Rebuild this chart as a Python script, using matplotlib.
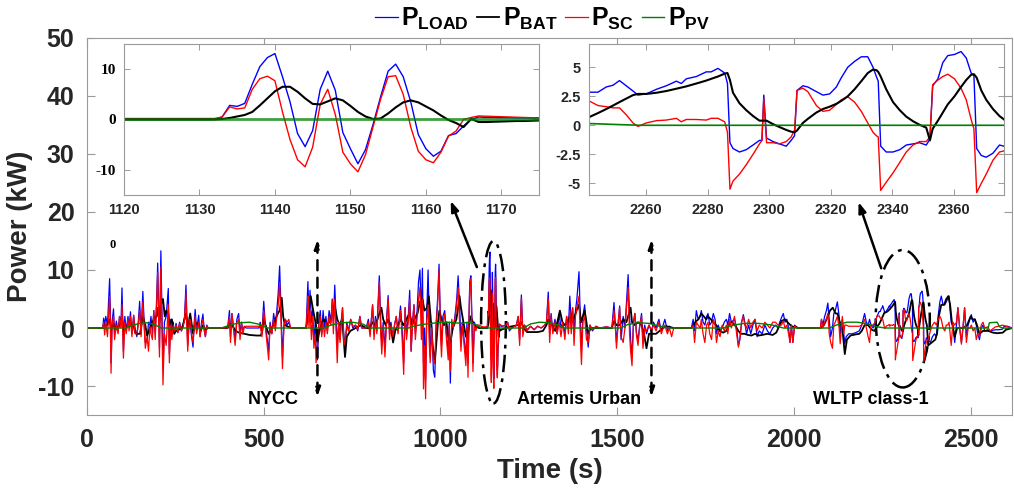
import numpy as np
import matplotlib.pyplot as plt
from matplotlib.patches import Ellipse

plt.rcParams['font.family'] = 'Liberation Sans'
plt.rcParams['font.weight'] = 'bold'
plt.rcParams['axes.labelweight'] = 'bold'
plt.rcParams['axes.unicode_minus'] = False
plt.rcParams['mathtext.fontset'] = 'custom'
plt.rcParams['mathtext.rm'] = 'Liberation Sans'
plt.rcParams['mathtext.bf'] = 'Liberation Sans:bold'

# ---- main trace: (time s, P_LOAD kW, P_SC kW) ----
drive_a = [(0, 0, 0), (45, 0, 0), (47, 1.7, 1.0), (50, 0.5, -1.2), (53, 2.0, 1.0), (58, 0.5, -1.5),
           (64, 8.5, 5.5), (66, 3.0, 1.0), (68, -6.0, -7.8), (71, 1.0, 0.5), (75, 3.3, 2.0), (78, -1.0, -2.0),
           (83, 1.2, 0.5), (88, -0.5, -1.0), (92, 2.0, 2.0), (96, 0.3, 0.0), (99, 6.9, 4.0), (103, -4.0, -5.2),
           (107, 2.0, 1.0), (111, -0.5, -1.0), (116, 2.0, 1.5), (119, 0.2, -0.5), (123, 2.8, 2.0), (127, -1.0, -1.5),
           (132, 2.2, 2.2), (136, 0.0, -1.0), (141, -1.5, -1.0), (145, 1.0, 0.5), (149, 4.6, 3.0), (153, -1.0, -1.5),
           (158, 6.3, 4.5), (162, 0.5, 0.0), (165, -2.5, -3.5), (170, -2.3, -1.5), (174, 1.0, -4.0), (178, 0.5, 0.3),
           (181, 2.0, -1.0), (185, -1.0, -2.0), (189, 3.0, 3.0), (193, -1.0, -2.0), (197, 5.0, 4.0), (200, 11.2, 9.6),
           (203, 2.0, 0.5), (205, -3.5, -5.0), (209, 13.3, 10.5), (212, 3.0, 0.0), (215, -7.0, -9.8), (219, 1.0, -1.0),
           (224, 2.0, -3.0), (230, 6.8, 4.0), (233, -4.5, -6.0), (237, 1.5, 0.5), (240, -1.0, -2.0), (244, 1.0, 0.5),
           (247, -1.0, -0.5), (252, 0.8, 0.5), (257, -0.8, -0.8), (262, 1.0, 0.8), (267, -0.5, -0.5), (272, 0.3, 0.2),
           (276, 2.0, 1.5), (280, 7.4, 6.0), (283, 1.0, -1.0), (285, -3.0, -4.0), (289, 1.0, 1.5), (292, 0.5, 1.5),
           (296, -1.5, -1.0), (300, -3.3, -2.5), (303, 0.5, 0.0), (306, 3.2, 2.0), (310, -0.5, -1.0), (316, 2.2, 1.0),
           (320, -1.5, -1.5), (324, 1.0, 0.5), (328, 2.4, 1.5), (332, -0.5, -0.5), (335, -1.5, -1.5), (339, 0.5, 0.3),
           (343, 0, 0), (398, 0, 0), (403, 3.0, 2.0), (406, -1.5, -2.5), (410, 2.5, 2.5), (414, 0.5, 0.0),
           (419, -2.0, -3.0), (424, 1.5, 1.0), (429, 2.5, 1.5), (433, -1.0, -2.0), (437, 1.0, 1.0), (441, -0.5, -1.0),
           (445, 0.3, 0.2), (450, 0.0, 0.3), (470, 0.0, 0.3), (487, 0.0, 0.3), (490, 1.0, 0.5), (495, -1.0, -1.5),
           (500, 4.6, 3.0), (504, 1.0, 0.5), (509, -1.5, -2.5), (514, -4.0, -5.5), (518, 1.0, 0.5), (523, -1.0, -1.0),
           (528, 2.5, 1.5), (533, 0.5, -0.5), (537, 3.0, 2.0), (541, 6.0, 4.0), (545, 10.7, 7.7), (549, 3.0, 1.0),
           (553, -5.0, -7.0), (557, 0.5, 0.0), (561, 1.5, 1.5), (566, 0.5, 1.0), (571, 1.0, 1.5), (576, 0, 0),
           (620, 0, 0), (623, 5.0, 3.0), (625, 8.0, 5.5), (628, 2.0, 0.0), (631, 6.5, 3.0), (635, 1.0, -2.0),
           (638, 3.0, 2.0), (642, -2.0, -3.5), (646, 1.0, -1.0), (648, -3.0, -6.0), (652, -5.5, -3.0), (656, 1.0, 0.5),
           (660, 3.0, 2.0), (664, -1.0, -1.5), (668, 3.0, 1.0), (672, 0.0, -1.5), (676, 2.0, 1.0), (680, -0.5, -1.0),
           (685, 3.0, 2.0), (690, 1.0, 0.5), (694, 5.0, 4.8), (697, 1.0, -1.0), (701, 7.4, 5.0), (705, 1.0, -1.0),
           (708, -3.0, -6.0), (712, 1.0, 1.0), (716, -2.0, -2.5), (719, 1.0, 0.5), (723, 3.5, 3.5), (727, -2.0, -3.0),
           (731, -3.0, -2.0), (735, 1.0, 0.5), (740, -0.5, -0.5), (746, 1.5, 1.5), (752, 0.0, 0.3), (760, 0.5, 0.5),
           (766, -0.5, -0.3), (772, 2.0, 2.0), (777, 0, 0), (790, 0, 0), (796, 1.5, 1.0), (801, -1.0, -1.5),
           (808, 4.0, 4.0), (812, -1.0, -2.0), (816, 2.0, 1.5), (820, -0.5, -1.0), (824, 5.0, 4.0), (827, 9.0, 8.0),
           (831, 1.0, -1.0), (834, -3.0, -4.5), (838, 1.0, 0.5), (843, -3.5, -5.0), (847, 1.0, 0.5), (852, 5.6, 5.0),
           (856, -1.0, -2.0), (860, 1.0, 0.5), (866, -2.0, -1.5), (870, 0.5, 0.5), (875, 2.0, 2.0), (880, -0.5, -1.0),
           (887, 3.8, 3.0), (891, 0.5, -1.0), (896, -6.0, -8.0), (900, 3.5, 3.5), (904, -1.0, -2.0), (909, 2.0, 1.0),
           (913, 6.5, 5.0), (917, -4.0, -4.0), (921, 1.0, 0.5), (925, 4.0, 4.0), (929, -1.0, -2.0), (934, 3.0, 2.0),
           (938, 8.0, 5.0), (942, 10.0, 7.0), (946, 2.0, -2.0), (949, 10.3, 5.0), (952, -6.0, -10.5), (955, 0.0, -3.0),
           (958, -9.0, -12.2), (961, 2.0, 1.0), (965, 10.0, 4.0), (968, 2.0, -2.0), (971, -5.0, -6.0), (975, 1.0, 0.0),
           (980, -7.3, -5.5), (984, -8.5, -6.0), (988, 1.0, 0.5), (992, 5.0, 4.0), (996, 11.0, 10.0), (1000, 1.0, -1.0),
           (1003, -3.0, -5.0), (1007, 2.0, 1.0), (1012, 3.0, 2.5), (1017, -1.0, -2.0), (1022, -4.0, -5.5), (1025, 1.0, 0.5),
           (1028, -9.5, -7.5), (1032, 1.0, 1.5), (1036, 0.0, 0.0), (1041, 2.0, 1.5), (1046, 5.0, 4.0), (1050, 9.0, 7.0),
           (1054, 4.0, 1.0), (1058, -2.0, -4.0), (1062, 1.0, 0.5), (1067, -2.0, -3.0), (1072, -5.0, -6.5), (1075, 1.0, 0.0),
           (1078, -6.0, -8.5), (1081, 3.0, 2.0), (1083, 8.0, 7.0), (1086, 9.0, 8.5), (1089, 2.0, 0.0), (1092, -6.0, -7.5),
           (1096, 1.0, 0.5), (1100, 0.0, -0.5), (1105, 0.5, 0.5), (1110, 0.0, 0.5), (1115, 0.0, 0.3)]

drive_b = [(1176, 0.3, 0.35), (1185, 0.5, 0.5), (1190, 1.0, 1.0), (1195, -0.5, -0.3), (1202, 0.0, 0.0), (1215, 0.5, 0.5),
           (1220, 2.0, 2.0), (1224, -2.0, -3.0), (1229, 5.7, 5.2), (1233, -0.5, -1.5), (1238, 0.5, 0.5), (1245, -0.3, -0.5),
           (1255, 0.3, 0.3), (1265, -0.3, -0.3), (1275, 0.3, 0.3), (1285, 0.0, 0.0), (1295, 0.5, 0.5), (1300, 1.0, 1.0),
           (1305, 6.2, 5.0), (1309, -1.0, -2.5), (1313, 2.5, 2.0), (1318, -0.5, -1.0), (1324, 1.5, 1.0), (1330, -1.0, -1.0),
           (1336, 2.5, 1.0), (1341, 0.0, -1.5), (1346, 1.0, 1.0), (1352, -1.0, -2.0), (1357, 2.0, 2.0), (1362, 0.0, -1.0),
           (1366, 5.5, 3.0), (1370, 1.0, -1.0), (1374, 3.5, 3.5), (1378, -1.0, -3.0), (1382, 3.0, 2.0), (1386, 5.0, 3.5),
           (1392, 9.7, 5.5), (1396, 1.0, -2.0), (1399, -4.0, -6.3), (1403, 2.0, 1.0), (1408, 4.0, 2.0), (1413, 0.0, -2.0),
           (1418, -3.3, -2.5), (1423, 0.5, 0.5), (1430, -0.5, -0.3), (1440, 0.3, 0.3), (1450, 0.0, 0.0), (1470, 0.2, 0.2),
           (1485, 0.0, 0.0), (1491, 4.4, 3.0), (1495, 0.5, 0.0), (1498, -2.5, -3.5), (1503, 1.0, 1.0), (1507, 3.8, 3.5),
           (1511, -2.0, -1.5), (1517, 2.0, -2.5), (1522, 0.0, 0.0), (1526, 4.0, 3.0), (1531, 9.2, 7.0), (1535, 2.0, -1.0),
           (1538, -2.0, -4.0), (1542, -5.0, -6.5), (1546, 1.0, 0.5), (1550, 2.5, 2.5), (1555, -1.0, -1.5), (1559, -2.0, -3.0),
           (1564, 0.5, 0.5), (1569, 2.5, 2.0), (1573, -2.5, -3.5), (1578, 0.5, 0.0), (1583, -1.0, -0.5), (1590, 0.5, 0.5),
           (1597, -0.5, -0.5), (1603, 1.0, 0.5), (1610, 0.0, -0.5), (1618, 1.5, 1.0), (1625, -0.5, -1.0), (1630, 0.5, 0.0),
           (1635, 1.5, 0.5), (1642, -0.5, -1.0), (1648, 0.3, 0.0), (1654, 0.0, -1.5), (1660, 0, 0), (1710, 0, 0),
           (1715, 1.5, 0.5), (1719, -0.5, -2.5), (1724, 3.0, 1.0), (1729, 1.5, 0.5), (1735, 2.0, 0.0), (1738, 3.0, 1.5),
           (1743, 1.0, -1.0), (1748, 0.5, -2.5), (1753, 2.0, 0.5), (1757, 2.5, 1.0), (1762, 0.5, -1.0), (1767, 1.0, -2.0),
           (1772, 2.5, 1.5), (1777, 1.5, 0.5), (1781, -1.0, -2.5), (1786, 0.5, -0.5), (1791, -0.5, -1.5), (1797, 0.0, 0.5),
           (1803, 1.0, -0.5), (1809, 1.5, 0.5), (1813, 0.5, -1.0), (1818, 2.5, 1.5), (1823, 1.0, 0.0), (1832, 1.5, 2.0),
           (1838, 0.0, -1.0), (1843, -3.0, -3.3), (1847, -2.0, -2.0), (1852, 1.0, 1.0), (1857, 2.3, 2.0), (1861, 1.0, 0.5),
           (1866, -1.0, 0.0), (1872, 0.5, 1.5), (1878, -1.0, 0.0), (1884, 0.5, 1.0), (1890, 1.5, 1.5), (1896, -1.5, -0.5),
           (1902, -0.5, 0.5), (1910, -1.0, 0.0), (1918, 0.5, 1.0), (1925, -0.5, 0.5), (1932, -1.0, 0.0), (1940, 0.0, 1.0),
           (1948, 0.5, 1.0), (1955, 0.0, 0.5), (1960, 1.0, 0.5), (1965, 1.8, 0.5), (1970, 2.5, 1.2), (1975, 1.0, 0.0),
           (1980, 1.5, 0.5), (1985, 0.0, -1.0), (1989, -2.5, -2.5), (1993, 0.5, 0.5), (1997, -2.5, -2.5), (2002, 0.5, 0.3),
           (2010, 0, 0), (2075, 0, 0), (2078, 1.5, 1.5), (2082, 0.5, 0.0), (2087, 2.0, 1.0), (2092, 3.0, 1.5),
           (2096, 4.3, 2.5), (2100, 1.5, -1.0), (2104, -1.5, -2.5), (2109, 0.0, -3.5), (2113, 2.5, 0.5), (2117, 3.0, 1.0),
           (2123, 4.5, 2.0), (2128, 2.0, 0.0), (2131, -1.0, -2.7), (2137, 1.5, 2.0), (2141, -1.0, -1.0), (2144, -2.7, 0.5),
           (2148, -1.5, 0.5), (2155, -1.0, 0.3), (2165, -1.0, 0.3), (2175, -0.8, 0.3), (2185, -0.5, 0.3), (2192, 0.5, 0.5),
           (2196, 1.5, 1.0), (2200, 2.5, 1.5), (2205, 1.0, 0.0), (2210, 0.5, -1.5), (2214, 1.5, -2.5), (2218, 0.5, 0.5),
           (2224, 0.0, 0.5), (2230, 1.0, 1.0), (2235, 2.0, 2.0)]

drive_c = [(2380, -2.0, -2.0), (2386, -2.5, -0.5), (2392, -1.5, 0.5), (2398, -1.0, 1.0), (2403, -1.5, 0.5),
           (2408, 2.0, 1.5), (2413, 4.5, 2.0), (2417, 5.5, 1.5), (2422, 4.0, 0.0), (2427, 4.0, -0.5), (2431, 4.5, 0.5),
           (2435, 5.0, 0.5), (2439, 5.5, 1.0), (2442, 3.0, -1.0), (2445, 1.0, -3.0), (2450, 0.5, 1.0), (2455, -2.5, 0.5),
           (2460, 0.5, 1.0), (2464, 3.5, 3.5), (2469, 0.0, 0.0), (2474, -2.5, -2.8), (2479, 0.5, 0.5), (2483, 3.5, 3.5),
           (2488, -1.5, -2.5), (2493, 0.5, 0.0), (2498, 1.5, 0.0), (2502, 2.3, 0.5), (2507, 1.0, -0.5), (2512, 1.5, 0.0),
           (2516, 0.5, -2.0), (2520, -1.0, -1.0), (2525, -2.0, -1.5), (2530, 0.0, 0.5), (2535, 0.5, 1.0), (2540, -0.5, 0.0),
           (2548, -0.3, 0.2), (2555, -0.5, -0.5), (2570, -0.3, 0.2), (2580, -0.3, 0.3), (2590, -0.2, 0.5),
           (2595, 0.3, 0.4), (2605, 0.3, 0.2), (2617, 0.0, 0.0)]

# battery (time s, P_BAT kW)
bat_a = [(0, 0), (46, 0), (47, 0.5), (55, 0.3), (64, 1.5), (68, -0.3), (75, 0.8), (80, -0.3), (90, 0.2), (99, 2.0),
         (103, -0.3), (110, 0.3), (123, 0.8), (128, 0.0), (132, 0.5), (136, -0.8), (141, -1.0), (150, -1.0), (158, 2.0),
         (165, 0.5), (170, -1.3), (175, -0.5), (181, 0.5), (189, 1.5), (197, 2.0), (200, 3.5), (205, 1.0), (209, 4.0),
         (215, 5.0), (220, 2.0), (224, 3.0), (230, 2.5), (233, 0.5), (240, 1.5), (247, -1.0), (252, -0.5), (260, -0.3),
         (270, 0.2), (280, 2.5), (285, 0.0), (292, 2.5), (300, -1.0), (306, 1.0), (316, 0.5), (322, -0.5), (328, 0.5),
         (335, -0.3), (343, 0.0), (398, 0.0), (403, 0.8), (410, 0.5), (420, -0.5), (430, -0.8), (445, -1.0), (460, -1.2),
         (480, -1.3), (492, -1.3), (496, -0.5), (500, 1.5), (505, 0.5), (514, -1.0), (520, -0.5), (530, 1.0), (540, 2.5),
         (545, 3.0), (551, 5.2), (555, 2.0), (560, 0.5), (570, 0.2), (578, 0.0), (620, 0.0), (625, 2.0), (633, 5.5),
         (640, 3.0), (648, 0.5), (652, -2.5), (656, -1.0), (662, 0.5), (670, 1.5), (680, 0.5), (690, 1.5), (697, 3.0),
         (702, 3.5), (708, 1.5), (715, 0.5), (722, 1.5), (730, -5.0), (735, -1.5), (745, -0.5), (760, 0.0), (775, 0.5),
         (790, 0.0), (800, 0.0), (808, 1.0), (815, 0.5), (822, 1.5), (827, 2.5), (833, 3.5), (838, 1.5), (845, 0.5),
         (852, 1.5), (860, 0.0), (866, -2.5), (872, -0.5), (880, 0.5), (887, 1.5), (895, 0.5), (900, 1.0), (908, 2.0),
         (913, 2.5), (920, 0.5), (926, 1.5), (935, 2.5), (942, 4.5), (949, 5.0), (955, 3.0), (962, 3.5), (967, 5.5),
         (972, 2.0), (978, -3.0), (984, -6.0), (989, -2.0), (993, 1.0), (997, 3.0), (1003, 1.5), (1010, 0.5), (1017, 1.0),
         (1022, -1.5), (1028, -2.5), (1035, 0.0), (1045, 1.5), (1050, 3.5), (1054, 5.5), (1058, 3.5), (1065, 1.0),
         (1072, -1.5), (1078, -1.0), (1085, 2.0), (1092, 1.0), (1100, 0.2), (1110, 0.0), (1115, 0.0)]

bat_b = [(1176, -0.2), (1185, 0.0), (1195, 0.2), (1220, 0.5), (1229, 1.0), (1235, 0.0), (1245, -0.7), (1260, -0.7),
         (1275, -0.7), (1290, -0.5), (1300, 0.5), (1305, 1.5), (1315, 0.5), (1325, -0.5), (1338, 3.0), (1345, 1.0),
         (1352, 0.5), (1360, 1.0), (1366, 2.0), (1374, 1.0), (1385, 3.0), (1392, 4.0), (1398, 1.0), (1408, 3.0),
         (1413, 1.0), (1418, -1.0), (1425, 0.0), (1485, 0.0), (1491, 1.2), (1498, 0.5), (1507, 0.5), (1517, 1.5),
         (1526, 1.0), (1531, 2.0), (1538, 3.5), (1542, 1.0), (1550, 0.5), (1559, 1.0), (1569, 0.5), (1576, -1.0),
         (1583, -3.5), (1590, -1.0), (1600, -1.0), (1610, -1.0), (1620, -0.5), (1630, 0.0), (1640, 0.3), (1660, 0.0),
         (1710, 0.0), (1715, 0.5), (1724, 1.2), (1730, 1.5), (1738, 2.5), (1745, 2.0), (1752, 1.5), (1757, 2.0),
         (1765, 1.5), (1772, 1.0), (1780, 0.5), (1790, -0.5), (1800, -0.8), (1809, -0.5), (1818, 0.8), (1825, 1.0),
         (1833, 0.5), (1843, -0.5), (1850, -1.0), (1860, -1.0), (1870, -1.2), (1880, -1.3), (1890, -1.0), (1900, -1.3),
         (1910, -1.2), (1925, -1.0), (1940, -1.2), (1950, -0.8), (1960, 0.5), (1965, 1.2), (1975, 1.5), (1982, 1.0),
         (1990, 0.5), (1997, 0.2), (2005, 0.2), (2012, 0.0), (2075, 0.0), (2085, 0.5), (2096, 2.0), (2102, 3.0),
         (2110, 3.5), (2118, 2.5), (2123, 2.5), (2130, 1.0), (2137, 0.0), (2144, -4.5), (2150, -2.0), (2160, -1.3),
         (2175, -1.1), (2185, -1.0), (2192, -0.5), (2200, 0.5), (2210, 0.5), (2220, -0.3), (2228, -0.5), (2236, 0.3)]

bat_c = [(2380, -3.0), (2390, -2.5), (2400, -2.0), (2405, -1.0), (2410, 2.0), (2417, 4.0), (2425, 4.0), (2431, 5.0),
         (2437, 5.5), (2442, 4.0), (2447, 1.0), (2455, -1.5), (2462, 0.0), (2480, 0.0), (2490, 0.5), (2500, 2.0),
         (2505, 1.5), (2512, 1.5), (2518, 0.5), (2525, -1.0), (2535, -0.5), (2550, -0.5), (2563, -0.8), (2575, -0.9),
         (2591, -0.8), (2600, -0.3), (2617, 0.0)]

# PV (time s, P_PV kW)
pv_a = [(0, 0), (110, 0), (130, 0.5), (150, 0.8), (170, 0.9), (190, 0.6), (210, 0), (380, 0), (400, 0.4), (430, 0.9),
        (460, 1.0), (490, 0.6), (510, 0), (670, 0), (690, 0.5), (720, 0.9), (750, 1.0), (780, 0.7), (800, 0),
        (910, 0), (930, 0.4), (960, 0.7), (990, 0.9), (1020, 1.0), (1040, 0.9), (1060, 0.8), (1080, 1.0),
        (1100, 0.6), (1115, 0)]
pv_b = [(1176, 0), (1235, 0), (1255, 0.7), (1280, 1.0), (1310, 0.9), (1335, 0.5), (1350, 0), (1510, 0), (1530, 0.6),
        (1560, 0.9), (1590, 0.8), (1620, 0.3), (1650, 0), (1800, 0), (1830, 0.5), (1860, 0.8), (1900, 0.8),
        (1940, 0.5), (1970, 0), (2100, 0), (2120, 0.5), (2150, 1.0), (2180, 1.0), (2210, 0.7), (2235, 0.2)]
pv_c = [(2380, 0), (2550, 0), (2553, 0.9), (2575, 1.0), (2582, 0.2), (2590, 0), (2617, 0)]

# ---- zoom window 1 (time s, P_LOAD, P_BAT, P_SC) ----
zoom1 = [(1120, 0, 0, 0.2), (1132, 0, 0, 0.2), (1133, 0.5, 0.1, 0.5), (1134, 2.8, 0.3, 2.5), (1135, 2.6, 0.6, 2.1),
         (1136, 3.2, 0.9, 2.3), (1137, 7.0, 1.5, 6.0), (1138, 10.5, 2.8, 8.1), (1139, 12.3, 4.2, 8.6),
         (1140, 13.1, 5.6, 7.7), (1141, 8.5, 6.5, 1.5), (1142, 3.5, 6.5, -4.0), (1143, -2.8, 5.5, -8.0),
         (1144, -5.4, 4.2, -9.4), (1145, -2.2, 3.1, -5.5), (1146, 6.0, 3.0, 3.0), (1147, 9.6, 3.6, 6.0),
         (1148, 5.8, 4.2, 1.0), (1149, -2.6, 3.8, -6.5), (1150, -5.8, 2.7, -8.8), (1151, -8.8, 1.5, -10.4),
         (1152, -6.0, 0.6, -7.0), (1153, -1.0, 0.1, -1.5), (1154, 4.5, 0.2, 4.0), (1155, 9.6, 1.2, 8.5),
         (1156, 11.0, 2.4, 8.7), (1157, 8.5, 3.4, 5.0), (1158, 3.5, 3.8, -1.5), (1159, -3.0, 3.4, -6.3),
         (1160, -5.8, 2.6, -8.0), (1161, -7.3, 1.8, -8.6), (1162, -6.3, 0.8, -6.5), (1163, -3.2, -0.1, -3.3),
         (1164, -2.8, -0.7, -2.3), (1165, -1.3, -1.5, 0.0), (1166, 0.0, 0.1, 0.4), (1167, 0.5, -0.5, 0.7),
         (1168, 0.4, -0.5, 0.65), (1169, 0.4, -0.45, 0.6), (1170, 0.35, -0.4, 0.55), (1171, 0.35, -0.35, 0.5),
         (1172, 0.3, -0.3, 0.45), (1173, 0.3, -0.3, 0.4), (1174, 0.3, -0.25, 0.35), (1175, 0.3, -0.2, 0.35)]
pv_zoom1 = [(1120, 0), (1175, 0)]

# ---- zoom window 2 (time s, P_LOAD, P_BAT, P_SC) ----
zoom2 = [(2241.4, 2.85, 0.7, 2.1), (2244.3, 2.85, 1.05, 1.7), (2247.0, 3.3, 1.4, 1.6), (2249.2, 3.45, 1.7, 1.5),
         (2251.3, 3.85, 2.0, 1.5), (2253.5, 3.4, 2.3, 0.9), (2255.7, 2.95, 2.6, 0.2), (2257.3, 2.6, 2.7, -0.1),
         (2260.0, 2.7, 2.7, 0.2), (2263.3, 3.1, 2.8, 0.4), (2266.5, 3.4, 2.95, 0.45), (2269.8, 3.8, 3.15, 0.6),
         (2271.4, 3.6, 3.25, 0.3), (2273.0, 4.0, 3.35, 0.5), (2276.3, 4.2, 3.6, 0.5), (2279.5, 4.6, 3.85, 0.45),
         (2281.1, 4.6, 4.0, 0.6), (2283.3, 4.9, 4.2, 0.6), (2285.5, 4.5, 4.45, 0.3), (2286.4, 3.6, 4.5, -0.6),
         (2287.2, -1.5, 3.9, -5.5), (2288.2, -2.0, 2.8, -4.8), (2290.3, -2.3, 1.9, -4.2), (2292.5, -2.1, 1.3, -3.4),
         (2294.7, -1.7, 0.8, -2.5), (2296.8, -1.3, 0.4, -1.6), (2297.6, -1.3, 0.4, -1.3), (2298.2, 2.6, 0.4, 2.3),
         (2299.1, -1.1, 0.4, -1.5), (2301.2, -1.4, 0.1, -1.5), (2303.3, -1.6, -0.15, -1.6), (2305.5, -1.8, -0.4, -1.4),
         (2307.1, -1.3, -0.55, -1.0), (2308.2, -0.9, -0.6, -0.4), (2309.0, 3.0, -0.45, 3.0), (2310.9, 3.4, 0.2, 3.2),
         (2312.5, 3.3, 0.55, 2.9), (2315.3, 2.9, 1.1, 1.7), (2317.4, 2.6, 1.4, 1.2), (2319.6, 2.7, 1.6, 1.3),
         (2321.8, 3.3, 1.85, 1.8), (2323.4, 4.1, 2.1, 2.2), (2325.5, 5.0, 2.5, 2.45), (2327.7, 5.5, 3.1, 2.0),
         (2329.9, 5.9, 3.8, 1.2), (2332.0, 5.9, 4.5, 0.2), (2333.7, 5.0, 4.8, -0.6), (2334.8, 4.2, 4.75, -0.9),
         (2335.4, 3.8, 4.6, -1.0), (2336.2, -1.8, 4.2, -5.6), (2338.0, -2.3, 3.1, -4.9), (2340.2, -2.3, 2.0, -4.1),
         (2342.4, -2.1, 1.3, -3.2), (2344.5, -1.7, 0.75, -2.3), (2346.7, -1.6, 0.35, -1.7), (2348.8, -1.5, 0.05, -1.4),
         (2351.0, -1.7, -0.2, -1.4), (2352.2, -1.2, -1.3, -1.0), (2353.1, 3.4, -0.3, 3.5), (2354.8, 4.0, 0.4, 3.9),
         (2356.4, 5.4, 1.1, 4.2), (2358.0, 6.0, 1.8, 4.4), (2360.2, 6.1, 2.5, 4.0), (2362.3, 6.35, 3.3, 3.2),
         (2364.0, 5.8, 3.9, 2.2), (2365.6, 4.5, 4.35, 0.5), (2366.5, 4.3, 4.4, -0.3), (2367.4, -2.0, 4.1, -5.8),
         (2368.9, -2.6, 3.0, -5.0), (2370.5, -2.75, 2.2, -4.2), (2372.7, -2.4, 1.4, -3.0), (2374.8, -1.7, 0.8, -2.3),
         (2376.3, -1.8, 0.5, -2.2)]
pv_zoom2 = [(2241.4, 0.15), (2245, 0.12), (2250, 0.07), (2258, 0.0), (2376.3, 0.0)]

series = ['$\\mathbf{P}_{\\mathbf{LOAD}}$', '$\\mathbf{P}_{\\mathbf{BAT}}$',
          '$\\mathbf{P}_{\\mathbf{SC}}$', '$\\mathbf{P}_{\\mathbf{PV}}$']
colors = ['#0000ff', '#000000', '#ff0000', '#008000']
cycle_labels = [('NYCC', 528), ('Artemis Urban', 1391), ('WLTP class-1', 2219)]
cycle_edges = [652, 1597]

# ---- assemble ----
a, b, c = np.array(drive_a).T, np.array(drive_b).T, np.array(drive_c).T
z1, z2 = np.array(zoom1).T, np.array(zoom2).T
t_ls = np.concatenate([a[0], z1[0], b[0], z2[0], c[0]])
p_load = np.concatenate([a[1], z1[1], b[1], z2[1], c[1]])
p_sc = np.concatenate([a[2], z1[3], b[2], z2[3], c[2]])
ba, bb, bc = np.array(bat_a).T, np.array(bat_b).T, np.array(bat_c).T
t_bat = np.concatenate([ba[0], z1[0], bb[0], z2[0], bc[0]])
p_bat = np.concatenate([ba[1], z1[2], bb[1], z2[2], bc[1]])
pa, pb, pc = np.array(pv_a).T, np.array(pv_b).T, np.array(pv_c).T
pz1, pz2 = np.array(pv_zoom1).T, np.array(pv_zoom2).T
t_pv = np.concatenate([pa[0], pz1[0], pb[0], pz2[0], pc[0]])
p_pv = np.concatenate([pa[1], pz1[1], pb[1], pz2[1], pc[1]])

txt = '#262626'
spine = '#9a9a9a'

fig = plt.figure(figsize=(10.14, 4.96), dpi=100)
ax = fig.add_axes([0.0858, 0.1633, 0.9122, 0.7601])
h1, = ax.plot(t_ls, p_load, color=colors[0], lw=0.9)
h2, = ax.plot(t_bat, p_bat, color=colors[1], lw=1.3)
h3, = ax.plot(t_ls, p_sc, color=colors[2], lw=0.9)
h4, = ax.plot(t_pv, p_pv, color=colors[3], lw=1.0)
ax.set_xlim(0, 2617)
ax.set_ylim(-15, 50)
ax.set_xticks([0, 500, 1000, 1500, 2000, 2500])
ax.set_yticks([-10, 0, 10, 20, 30, 40, 50])
ax.tick_params(direction='in', length=6, width=0.8, color=spine, top=True, right=True,
               labelsize=18, labelcolor=txt, pad=9)
for s in ax.spines.values():
    s.set_color(spine)
    s.set_linewidth(0.8)
ax.set_xlabel('Time (s)', fontsize=20, fontweight='bold', color=txt, labelpad=5)
ax.set_ylabel('Power (kW)', fontsize=20, fontweight='bold', color=txt, labelpad=4)

# cycle boundaries and labels
for x in cycle_edges:
    ax.annotate('', xy=(x, 15.2), xytext=(x, -11.8),
                arrowprops=dict(arrowstyle='<|-|>,head_length=0.5,head_width=0.18', lw=1.8,
                                ls=(0, (4, 3)), color='k', shrinkA=0, shrinkB=0))
for name, x in cycle_labels:
    ax.text(x, -12.4, name, fontsize=13, fontweight='bold', ha='center', va='center', color='k')

ax.add_patch(Ellipse((1150, 1.0), 70, 28, fill=False, ls=(0, (7, 2.5, 1.5, 2.5)), lw=1.8, color='k'))
ax.add_patch(Ellipse((2308, 1.6), 153, 23.7, fill=False, ls=(0, (7, 2.5, 1.5, 2.5)), lw=1.8, color='k'))
ax.annotate('', xy=(1029, 21.9), xytext=(1103, 10.5),
            arrowprops=dict(arrowstyle='-|>,head_length=0.6,head_width=0.22', lw=1.8, color='k',
                            shrinkA=0, shrinkB=0))
ax.annotate('', xy=(2183, 21.7), xytext=(2247, 10.3),
            arrowprops=dict(arrowstyle='-|>,head_length=0.6,head_width=0.22', lw=1.8, color='k',
                            shrinkA=0, shrinkB=0))

# ---- inset 1 ----
ax1 = fig.add_axes([0.1223, 0.6069, 0.4093, 0.3044])
ax1.plot(z1[0], z1[1], color=colors[0], lw=1.0)
ax1.plot(z1[0], z1[3], color=colors[2], lw=1.0)
ax1.plot(z1[0], z1[2], color=colors[1], lw=1.5)
ax1.plot(pz1[0], pz1[1], color=colors[3], lw=2.0, alpha=0.75)
ax1.set_xlim(1120, 1175)
ax1.set_ylim(-15, 15)
ax1.set_xticks([1120, 1130, 1140, 1150, 1160, 1170])
ax1.set_yticks([-10, 0, 10])
ax1.tick_params(direction='in', length=4, width=0.7, color=spine, top=True, right=True,
                labelsize=10.5, labelcolor=txt, pad=6)
for lab in ax1.get_yticklabels():
    lab.set_fontfamily('Liberation Serif')
    lab.set_fontsize(11)
    lab.set_color('k')
for s in ax1.spines.values():
    s.set_color(spine)
    s.set_linewidth(0.8)

# ---- inset 2 ----
ax2 = fig.add_axes([0.5809, 0.6069, 0.4093, 0.3044])
ax2.plot(z2[0], z2[1], color=colors[0], lw=1.0)
ax2.plot(z2[0], z2[3], color=colors[2], lw=1.0)
ax2.plot(z2[0], z2[2], color=colors[1], lw=1.5)
ax2.plot(pz2[0], pz2[1], color=colors[3], lw=1.2)
ax2.set_xlim(2241.4, 2376.3)
ax2.set_ylim(-6, 7)
ax2.set_xticks([2260, 2280, 2300, 2320, 2340, 2360])
ax2.set_yticks([-5, -2.5, 0, 2.5, 5])
ax2.set_yticklabels(['-5', '-2.5', '0', '2.5', '5'])
ax2.tick_params(direction='in', length=4, width=0.7, color=spine, top=True, right=True,
                labelsize=10.5, labelcolor=txt, pad=6)
for s in ax2.spines.values():
    s.set_color(spine)
    s.set_linewidth(0.8)

fig.text(0.1114, 0.506, '0', fontsize=9, family='Liberation Serif', ha='center', va='center')

fig.legend([h1, h2, h3, h4], series, loc='center', bbox_to_anchor=(0.535, 0.962), ncol=4,
           frameon=False, fontsize=18, handlelength=0.9, handletextpad=0.15, columnspacing=0.3,
           borderpad=0.1)

fig.savefig('out.png', dpi=100)
